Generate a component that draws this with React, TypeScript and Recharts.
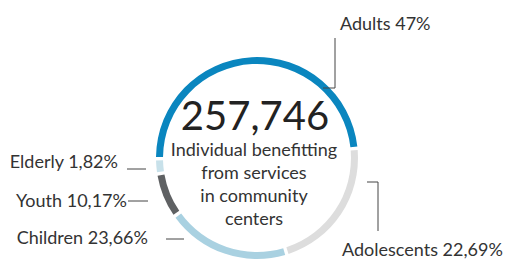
import { Pie, PieChart, Cell } from "recharts";

// arc shares as measured on the ring; the printed labels are kept apart
const groups = ["Adults", "Elderly", "Youth", "Children", "Adolescents"];
const shares = [49.4, 1.9, 6.9, 20.0, 21.8];
const labels = ["Adults 47%", "Elderly 1,82%", "Youth 10,17%", "Children 23,66%", "Adolescents 22,69%"];
const colors = ["#0a86bf", "#c8e1ea", "#5f6163", "#a9d1e1", "#dddddd"];

const totalText = "257,746";
const subtitle = ["Individual benefitting", "from services", "in community", "centers"];

const data = groups.map((name, i) => ({ name, value: shares[i], label: labels[i] }));

// label placement, relative to the pie centre
const labelPos = [
  { x: 83, y: -128, anchor: "start", line: "M78,-120V-70H66" },
  { x: -139, y: 10, anchor: "end", line: "M-130,11H-111" },
  { x: -130, y: 49, anchor: "end", line: "M-129,43H-109" },
  { x: -109, y: 86, anchor: "end", line: "M-91,81H-73" },
  { x: 85, y: 98, anchor: "start", line: "M110,24H121V73" },
];

const font = "Lato, 'Noto Sans', sans-serif";

function renderLabel(props: any) {
  const { cx, cy, index } = props;
  const p = labelPos[index];
  return (
    <g key={`lbl-${index}`}>
      <path d={p.line} transform={`translate(${cx},${cy})`} stroke="#444" strokeWidth={1} fill="none" />
      <text x={cx + p.x} y={cy + p.y} textAnchor={p.anchor} fontSize={18} fill="#333" fontFamily={font}>
        {labels[index]}
      </text>
      {index === 0 && (
        <g>
          <text x={cx - 2} y={cy - 28} textAnchor="middle" fontSize={40} fill="#222" fontFamily={font}>
            {totalText}
          </text>
          {subtitle.map((s, k) => (
            <text key={s} x={cx - 3} y={cy - 2 + k * 23} textAnchor="middle" fontSize={18} fill="#333" fontFamily={font}>
              {s}
            </text>
          ))}
        </g>
      )}
    </g>
  );
}

export default function App() {
  return (
    <div style={{ position: "absolute", left: 0, top: 0, width: 505, height: 260, background: "#fff" }}>
      <PieChart width={505} height={260} margin={{ top: 0, right: 0, bottom: 0, left: 0 }}>
        <Pie
          data={data}
          dataKey="value"
          cx={257}
          cy={158}
          innerRadius={94}
          outerRadius={101}
          startAngle={6.5}
          endAngle={366.5}
          paddingAngle={2}
          stroke="none"
          label={renderLabel}
          labelLine={false}
          isAnimationActive={false}
        >
          {data.map((d, i) => (
            <Cell key={d.name} fill={colors[i]} />
          ))}
        </Pie>
      </PieChart>
    </div>
  );
}
